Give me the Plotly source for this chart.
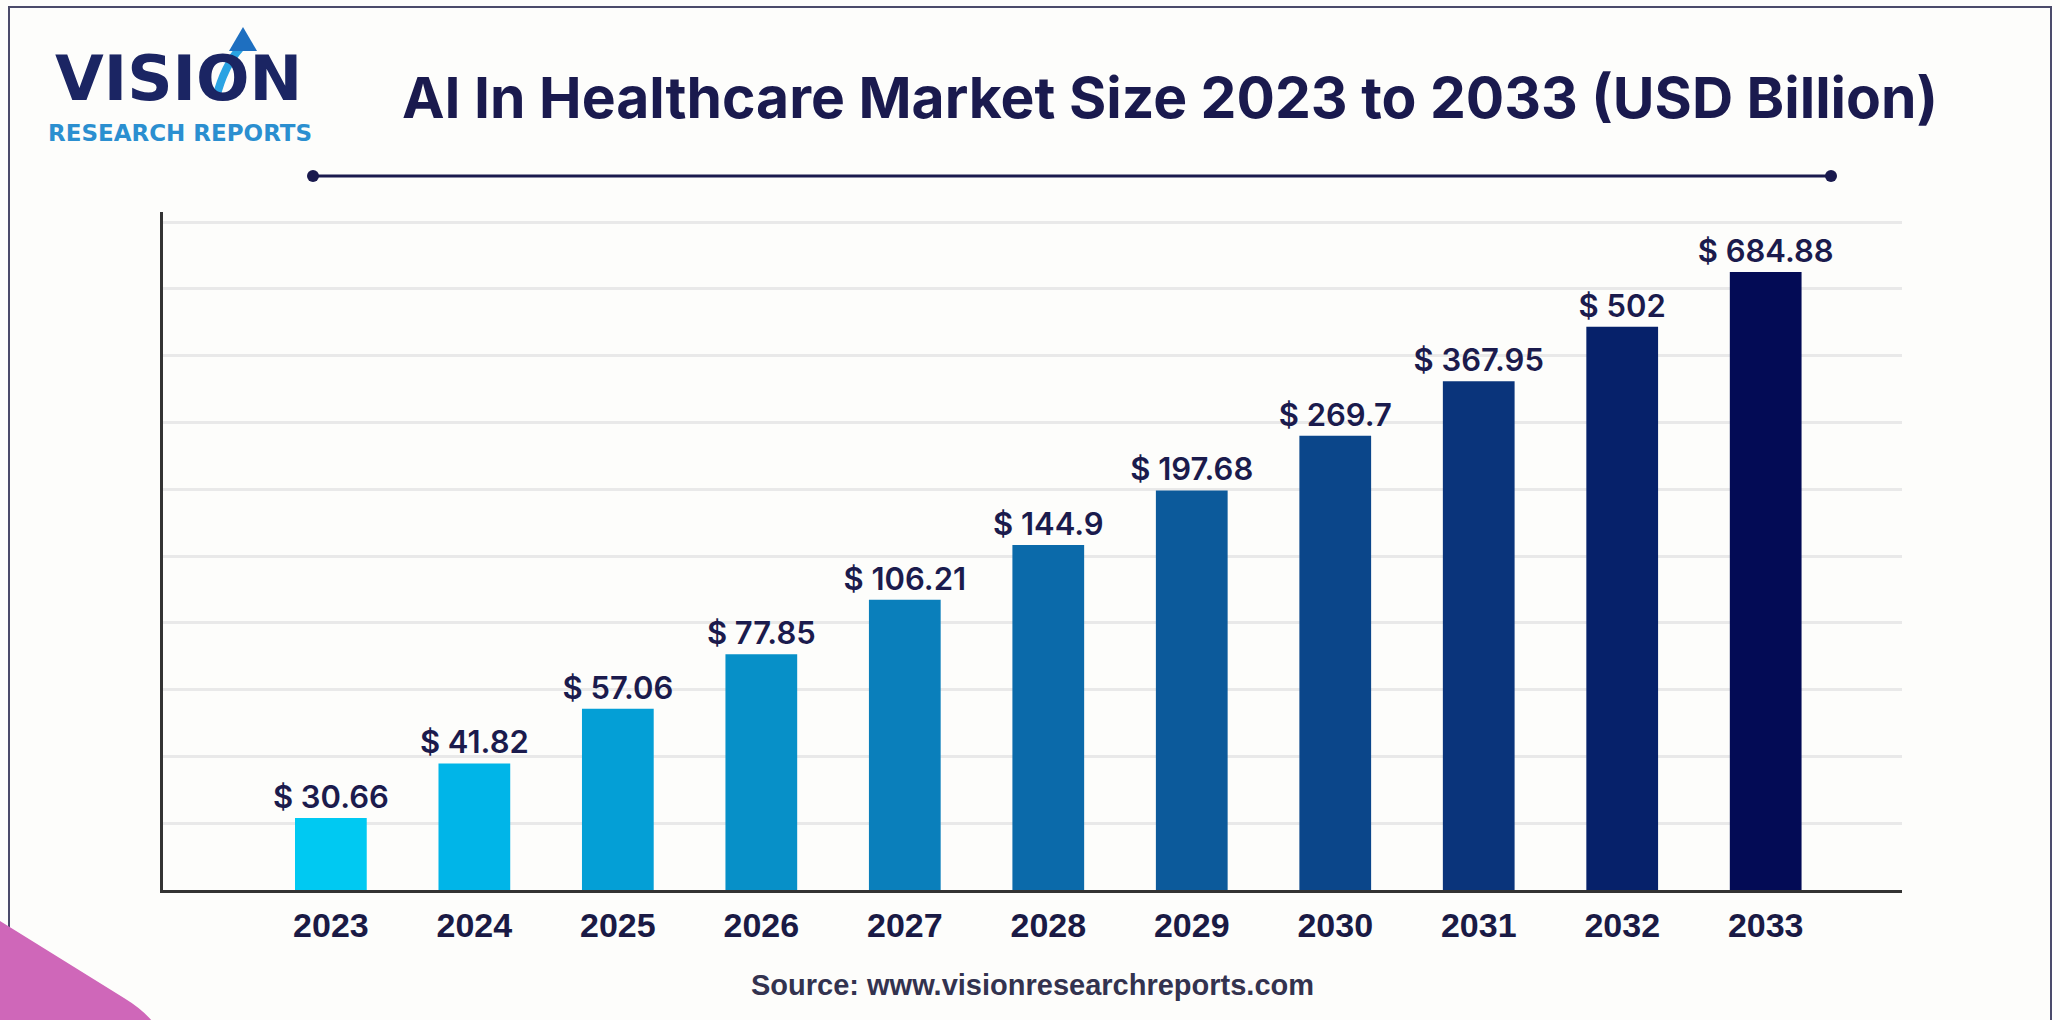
import numpy as np
import plotly.graph_objects as go

# ---- data -------------------------------------------------------------
years = [2023, 2024, 2025, 2026, 2027, 2028, 2029, 2030, 2031, 2032, 2033]
market_size = [30.66, 41.82, 57.06, 77.85, 106.21, 144.9, 197.68, 269.7, 367.95, 502, 684.88]
year_labels = [str(y) for y in years]

bar_colors = ["#00C9F2", "#00B5E8", "#049FD6", "#0790C8", "#0A7FBB", "#0B6AAA",
              "#0C5A9B", "#0B468A", "#0A347B", "#06216A", "#030B55"]

title_text = "AI In Healthcare Market Size 2023 to 2033 (USD Billion)"
source_text = "Source: www.visionresearchreports.com"

# ---- canvas helpers (pixel -> paper) -----------------------------------
W, H = 2060, 1020


def px(x):
    return x / W


def py(y):
    return 1 - y / H


def path_from(points, close=True):
    s = "M " + " L ".join(f"{px(x):.5f},{py(y):.5f}" for x, y in points)
    return s + (" Z" if close else "")


NAVY = "#1a1a4e"

fig = go.Figure()

fig.add_trace(go.Bar(
    x=years,
    y=market_size,
    width=0.5,
    marker=dict(color=bar_colors, line=dict(width=0)),
    text=[f"$ {v:g}" for v in market_size],
    textposition="outside",
    constraintext="none",
    cliponaxis=False,
    textfont=dict(family="Inter", size=31, color="#1b1b4d", weight=600),
    hoverinfo="skip",
))

# empty trace on the overlay axis that carries the horizontal grid
fig.add_trace(go.Scatter(x=[], y=[], yaxis="y2", showlegend=False, hoverinfo="skip"))

fig.update_layout(
    width=W, height=H,
    margin=dict(l=0, r=0, t=0, b=0),
    paper_bgcolor="#fdfdfb",
    plot_bgcolor="rgba(0,0,0,0)",
    showlegend=False,
    bargap=0.5,
    xaxis=dict(
        domain=[px(163), px(1902)],
        range=[2021.83, 2033.95],
        tickvals=years,
        ticktext=year_labels,
        ticks="",
        ticklabelstandoff=3,
        tickfont=dict(family="Liberation Sans", size=34, color="#1a1a45", weight="bold"),
        showgrid=False,
        zeroline=False,
        showline=True,
        linecolor="#333333",
        linewidth=3,
        fixedrange=True,
    ),
    yaxis=dict(
        domain=[py(890), py(212)],
        type="log",
        range=[1.3087, 2.984],
        showticklabels=False,
        ticks="",
        showgrid=False,
        zeroline=False,
        showline=True,
        linecolor="#333333",
        linewidth=3,
        fixedrange=True,
    ),
    yaxis2=dict(
        overlaying="y",
        anchor="x",
        range=[0, 10.15],
        dtick=1,
        showticklabels=False,
        ticks="",
        showgrid=True,
        gridcolor="#e9e9e9",
        gridwidth=3,
        zeroline=False,
        showline=False,
        fixedrange=True,
    ),
)

shapes = []
# outer frame
shapes.append(dict(type="rect", xref="paper", yref="paper",
                   x0=px(9), x1=px(2051), y0=py(1030), y1=py(7),
                   line=dict(color="#4a4a6a", width=2), fillcolor="rgba(0,0,0,0)", layer="below"))
# rule under the title with end dots
shapes.append(dict(type="line", xref="paper", yref="paper",
                   x0=px(313), x1=px(1831), y0=py(176), y1=py(176),
                   line=dict(color=NAVY, width=3)))
for cx in (313, 1831):
    shapes.append(dict(type="circle", xref="paper", yref="paper",
                       x0=px(cx - 6), x1=px(cx + 6), y0=py(182), y1=py(170),
                       fillcolor=NAVY, line=dict(width=0)))
# corner accent
shapes.append(dict(type="path", xref="paper", yref="paper",
                   path=(f"M {px(0)},{py(921)} L {px(124)},{py(998)} "
                         f"Q {px(142)},{py(1009)} {px(152)},{py(1021)} L {px(0)},{py(1021)} Z"),
                   fillcolor="#cf67b9", line=dict(width=0)))
# logo swoosh + arrow head
shapes.append(dict(type="path", xref="paper", yref="paper",
                   path=(f"M {px(216)},{py(98)} Q {px(224)},{py(66)} {px(241)},{py(47)}"),
                   line=dict(color="#2aa3e3", width=8)))
shapes.append(dict(type="path", xref="paper", yref="paper",
                   path=path_from([(229, 51), (243, 27), (257, 51)]),
                   fillcolor="#1e6fc0", line=dict(width=0)))

fig.update_layout(shapes=shapes)

annotations = [
    dict(text=title_text, xref="paper", yref="paper", x=px(400), y=py(98),
         xanchor="left", yanchor="middle", showarrow=False,
         font=dict(family="Inter", size=57, color=NAVY, weight=700)),
    dict(text="VISION", xref="paper", yref="paper", x=px(178), y=py(79),
         xanchor="center", yanchor="middle", showarrow=False, borderpad=0,
         font=dict(family="DejaVu Sans", size=63, color="#1b2563", weight="bold")),
    dict(text="RESEARCH REPORTS", xref="paper", yref="paper", x=px(180), y=py(133),
         xanchor="center", yanchor="middle", showarrow=False, borderpad=0,
         font=dict(family="DejaVu Sans", size=23, color="#2b8fd0", weight="bold")),
    dict(text=source_text, xref="paper", yref="paper", x=px(1032), y=py(985),
         xanchor="center", yanchor="middle", showarrow=False,
         font=dict(family="Liberation Sans", size=29, color="#33334f", weight="bold")),
]
fig.update_layout(annotations=annotations)

fig.write_html("out.html")
